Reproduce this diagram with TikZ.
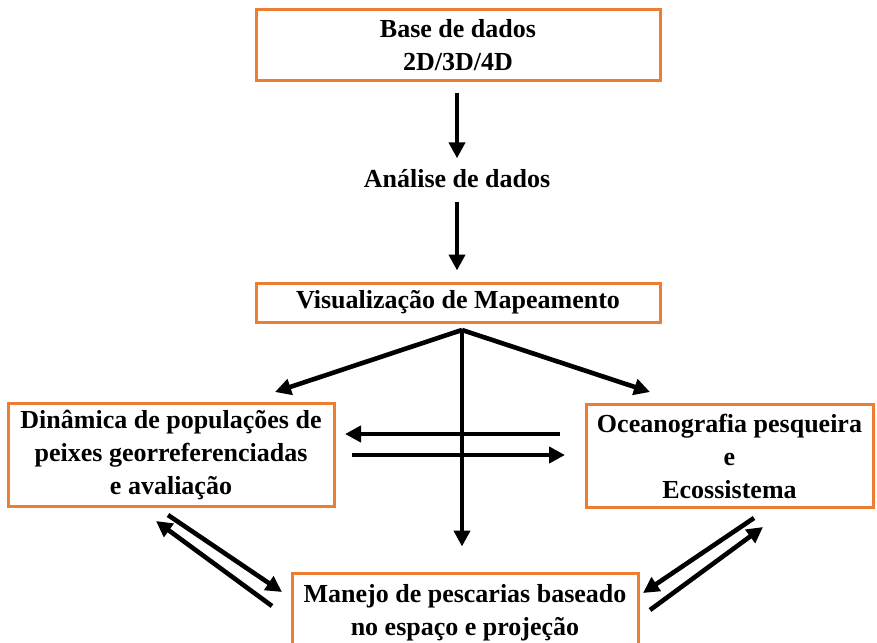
\documentclass[tikz,border=0pt]{standalone}
\usepackage{fontspec}
\setmainfont{Liberation Serif}
\usepackage{tikz}
\usetikzlibrary{arrows.meta,positioning,calc}
\definecolor{boxorange}{RGB}{237,125,49}

\begin{document}
\begin{tikzpicture}[x=1pt, y=-1pt,
    box/.style={draw=boxorange, line width=3pt, fill=white, align=center, inner sep=0pt,
                font=\fontsize{26}{33}\selectfont\bfseries},
    lbl/.style={align=center, font=\fontsize{26}{33}\selectfont\bfseries},
    arr/.style={-{Triangle[length=16pt, width=16pt]}, line width=4.6pt}
]
\useasboundingbox (0,0) rectangle (877,642);

\node[box, minimum width=404pt, minimum height=70pt] (base) at (458,45) {Base de dados\\2D/3D/4D};
\node[lbl] (ana) at (457,179) {Análise de dados};
\node[box, minimum width=404pt, minimum height=39pt] (vis) at (458,302.5) {Visualização de Mapeamento};
\node[box, minimum width=326pt, minimum height=103pt] (din) at (171,455) {Dinâmica de populações de\\peixes georreferenciadas\\e avaliação};
\node[box, minimum width=287pt, minimum height=103pt] (oce) at (729.5,456) {Oceanografia pesqueira\\e\\Ecossistema};
\node[box, minimum width=346pt, minimum height=80pt] (man) at (465,613) {Manejo de pescarias baseado\\no espaço e projeção};

\coordinate (fork) at (462,330);

\draw[arr, shorten <=11pt, shorten >=8pt] (base.south -| ana) -- (ana.north);
\draw[arr, shorten <=10pt, shorten >=11pt] (ana.south) -- (vis.north -| ana);
\draw[arr] (fork) -- (275,392) coordinate (dinin);
\draw[arr] (fork) -- (650,392) coordinate (ocein);
\draw[arr, shorten >=25pt] (fork) -- (fork |- man.north) coordinate (manin);

\draw[arr] (560,434) coordinate (ocea) -- (345,434) coordinate (dinb);
\draw[arr] (352,455) coordinate (dina) -- (565,455) coordinate (oceb);

\draw[arr] (168,515) coordinate (dinc) -- (282,592) coordinate (mana);
\draw[arr] (272,606) coordinate (manb) -- (156,521) coordinate (dind);
\draw[arr] (754,518) coordinate (ocec) -- (643,593) coordinate (manc);
\draw[arr] (650,610) coordinate (mand) -- (763,527) coordinate (oced);
\end{tikzpicture}
\end{document}
